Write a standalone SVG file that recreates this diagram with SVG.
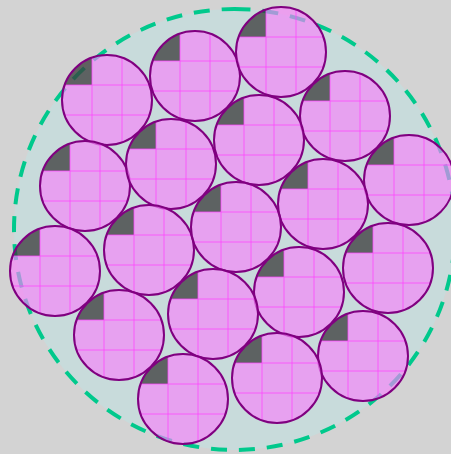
<svg xmlns="http://www.w3.org/2000/svg" xmlns:xlink="http://www.w3.org/1999/xlink" width="451" height="454" viewBox="0 0 451 454">
<style>
.bg{fill:#d3d3d3}
.outer{fill:#c8dbdb;stroke:#00c98c;stroke-width:4;stroke-dasharray:16 12}
.pink{fill:#f882fc;fill-opacity:0.65}
.dark{fill:#3a3a3a;fill-opacity:0.75}
.grid{fill:none;stroke:#ff44ff;stroke-width:1;stroke-opacity:0.75}
.rim{fill:none;stroke:#800080;stroke-width:2}
</style>
<defs>
<clipPath id="cc"><circle cx="0" cy="0" r="45"/></clipPath>
<g id="tile">
<g clip-path="url(#cc)">
<path class="pink" d="M-15 -45H45V45H-45V-15H-15Z"/>
<rect class="dark" x="-45" y="-45" width="30" height="30"/>
<path class="grid" d="M-15 -45V45M15 -45V45M-45 -15H45M-45 15H45"/>
</g>
<circle class="rim" cx="0" cy="0" r="45"/>
</g>
</defs>
<rect class="bg" x="0" y="0" width="451" height="454"/>
<g id="container">
<path class="outer" d="M234.5 9A220.5 220.5 0 1 1 234.5 450A220.5 220.5 0 1 1 234.5 9Z"/>
</g>
<g id="connectors"/>
<g id="n1" transform="translate(107,100)"><use xlink:href="#tile" href="#tile"/></g>
<g id="n2" transform="translate(195,76)"><use xlink:href="#tile" href="#tile"/></g>
<g id="n3" transform="translate(281,52)"><use xlink:href="#tile" href="#tile"/></g>
<g id="n4" transform="translate(345,116)"><use xlink:href="#tile" href="#tile"/></g>
<g id="n5" transform="translate(409,180)"><use xlink:href="#tile" href="#tile"/></g>
<g id="n12" transform="translate(85,186)"><use xlink:href="#tile" href="#tile"/></g>
<g id="n13" transform="translate(171,164)"><use xlink:href="#tile" href="#tile"/></g>
<g id="n14" transform="translate(259,140)"><use xlink:href="#tile" href="#tile"/></g>
<g id="n15" transform="translate(323,204)"><use xlink:href="#tile" href="#tile"/></g>
<g id="n11" transform="translate(55,271)"><use xlink:href="#tile" href="#tile"/></g>
<g id="n18" transform="translate(149,250)"><use xlink:href="#tile" href="#tile"/></g>
<g id="n19" transform="translate(236,227)"><use xlink:href="#tile" href="#tile"/></g>
<g id="n6" transform="translate(388,268)"><use xlink:href="#tile" href="#tile"/></g>
<g id="n16" transform="translate(299,292)"><use xlink:href="#tile" href="#tile"/></g>
<g id="n17" transform="translate(213,314)"><use xlink:href="#tile" href="#tile"/></g>
<g id="n10" transform="translate(119,335)"><use xlink:href="#tile" href="#tile"/></g>
<g id="n7" transform="translate(363,356)"><use xlink:href="#tile" href="#tile"/></g>
<g id="n8" transform="translate(277,378)"><use xlink:href="#tile" href="#tile"/></g>
<g id="n9" transform="translate(183,399)"><use xlink:href="#tile" href="#tile"/></g>
</svg>
